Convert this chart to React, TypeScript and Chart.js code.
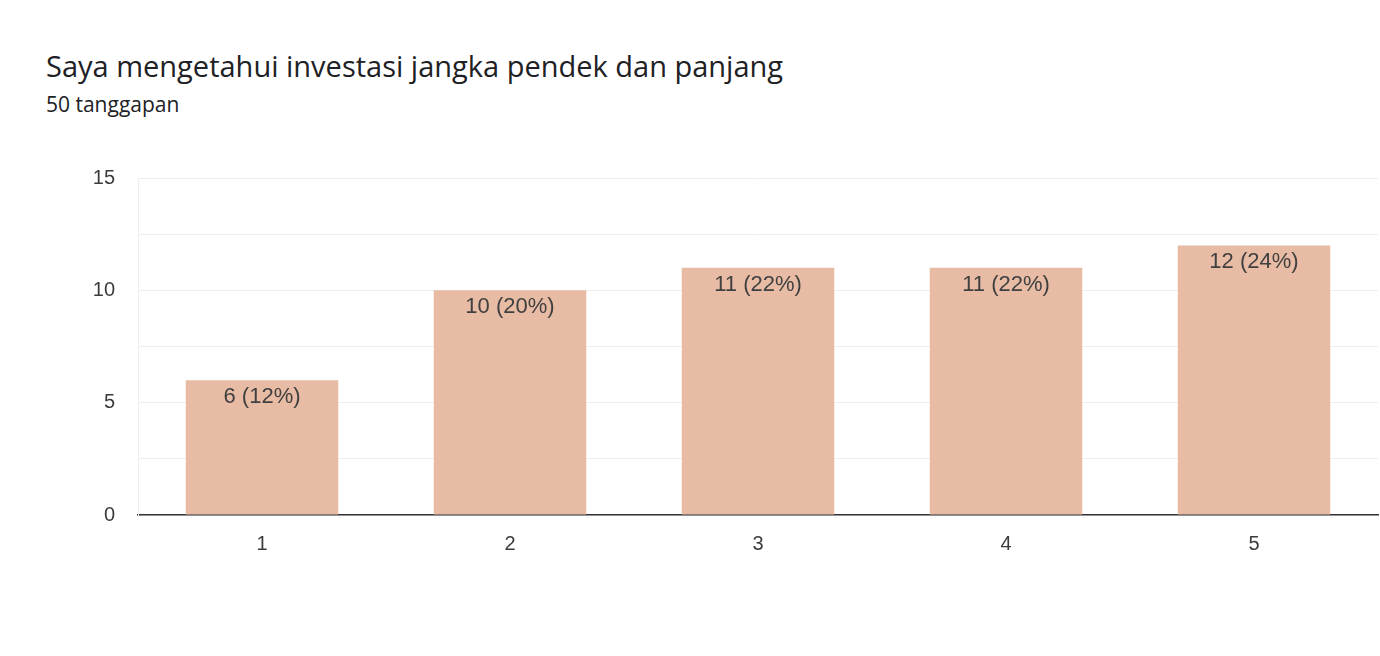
import React, { useEffect, useRef } from "react";
import { Chart, registerables } from "chart.js";

Chart.register(...registerables);

const TITLE = "Saya mengetahui investasi jangka pendek dan panjang";
const SUBTITLE = "50 tanggapan";
const categories = ["1", "2", "3", "4", "5"];
const counts = [6, 10, 11, 11, 12];
const percents = [12, 20, 22, 22, 24];
const yTickLabels = [0, 5, 10, 15];

const barLabelPlugin = {
  id: "barLabels",
  afterDatasetsDraw(chart: any) {
    const ctx = chart.ctx;
    const meta = chart.getDatasetMeta(0);
    ctx.save();
    ctx.font = "22px 'Liberation Sans', Arial, sans-serif";
    ctx.fillStyle = "#404040";
    ctx.textAlign = "center";
    ctx.textBaseline = "top";
    meta.data.forEach((bar: any, i: number) => {
      ctx.fillText(`${counts[i]} (${percents[i]}%)`, bar.x, bar.y + 6);
    });
    ctx.restore();
  },
};

export default function App() {
  const ref = useRef<HTMLCanvasElement>(null);
  useEffect(() => {
    if (!ref.current) return;
    const chart = new Chart(ref.current, {
      type: "bar",
      data: {
        labels: categories,
        datasets: [
          {
            data: counts,
            backgroundColor: "#e8bba4",
            barPercentage: 0.615,
            categoryPercentage: 1,
          },
        ],
      },
      options: {
        animation: false,
        responsive: false,
        maintainAspectRatio: false,
        layout: { padding: { top: 178, right: 2, left: 0, bottom: 91 } },
        plugins: { legend: { display: false }, tooltip: { enabled: false }, title: { display: false } },
        scales: {
          x: {
            grid: { display: false, drawTicks: false },
            border: { display: true, color: "#333333", width: 1.5 },
            ticks: {
              color: "#3c3c3c",
              font: { family: "'Liberation Sans', Arial, sans-serif", size: 20 },
              padding: 17,
            },
            afterFit(scale: any) {
              scale.height = 50;
            },
          },
          y: {
            min: 0,
            max: 15,
            grid: { color: "#eeeeee", lineWidth: 1, drawTicks: false },
            border: { display: true, color: "#eeeeee", width: 1 },
            ticks: {
              stepSize: 2.5,
              color: "#3c3c3c",
              font: { family: "'Liberation Sans', Arial, sans-serif", size: 20 },
              padding: 23,
              callback: (v: any) => (yTickLabels.includes(Number(v)) ? String(v) : ""),
            },
            afterFit(scale: any) {
              scale.width = 138;
            },
          },
        },
      },
      plugins: [barLabelPlugin],
    });
    return () => chart.destroy();
  }, []);

  return (
    <div style={{ position: "fixed", left: 0, top: 0, width: 1380, height: 656, background: "#fff" }}>
      <div
        style={{
          position: "absolute",
          left: 46,
          top: 47,
          fontFamily: "'Open Sans', Roboto, sans-serif",
          fontSize: 29,
          lineHeight: "38px",
          color: "#202124",
          whiteSpace: "nowrap",
        }}
      >
        {TITLE}
      </div>
      <div
        style={{
          position: "absolute",
          left: 46,
          top: 90,
          fontFamily: "'Open Sans', Roboto, sans-serif",
          fontSize: 21,
          lineHeight: "28px",
          color: "#202124",
          whiteSpace: "nowrap",
        }}
      >
        {SUBTITLE}
      </div>
      <canvas ref={ref} width={1380} height={656} style={{ position: "absolute", left: 0, top: 0 }} />
    </div>
  );
}
